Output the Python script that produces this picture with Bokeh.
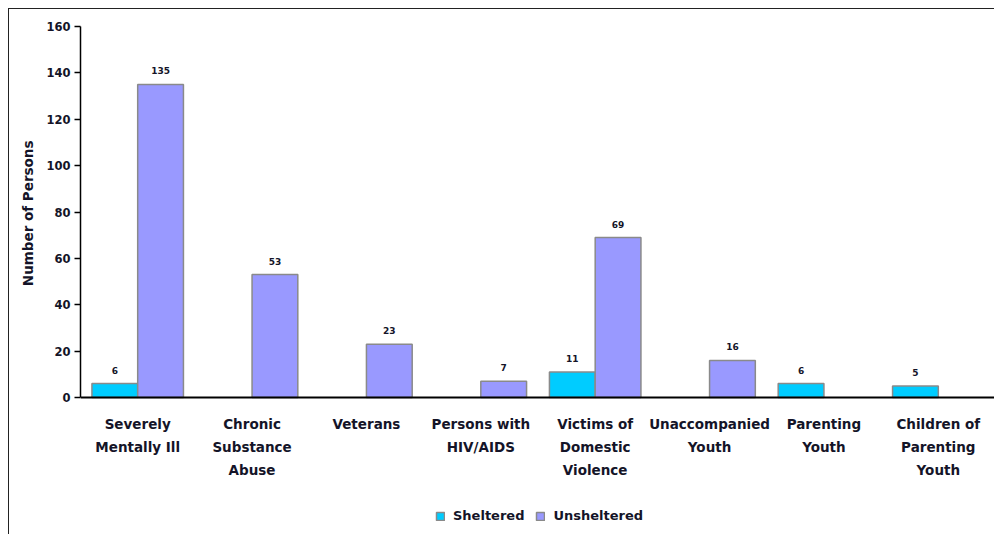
from bokeh.plotting import figure
from bokeh.models import (ColumnDataSource, FactorRange, Range1d, FixedTicker,
                          Legend, LegendItem, Span, Title)
from bokeh.transform import dodge
from bokeh.core.properties import value
from bokeh.embed import file_html
from bokeh.resources import INLINE

# ---- data ----
categories = ["Severely\nMentally Ill", "Chronic\nSubstance\nAbuse", "Veterans",
              "Persons with\nHIV/AIDS", "Victims of\nDomestic\nViolence",
              "Unaccompanied\nYouth", "Parenting\nYouth", "Children of\nParenting\nYouth"]
sheltered = [6, 0, 0, 0, 11, 0, 6, 5]
unsheltered = [135, 53, 23, 7, 69, 16, 0, 0]
series_names = ["Sheltered", "Unsheltered"]
y_ticks = [0, 20, 40, 60, 80, 100, 120, 140, 160]
y_title = "Number of Persons"

colors = ["#00CCFF", "#9999FF"]
offsets = [-0.2, 0.2]
FONT = "DejaVu Sans"
TEXT_COLOR = "#141428"

# layout (pixels): plotting area of the value axis and room below it for texts
AXIS_PX = 371
BELOW_PX = 138
y_max = y_ticks[-1]
y_min = -y_max * BELOW_PX / AXIS_PX

p = figure(x_range=FactorRange(*categories, range_padding=0),
           y_range=Range1d(y_min, y_max),
           width=986, height=526,
           output_backend="svg", toolbar_location=None,
           min_border_left=71, min_border_top=17, min_border_right=0,
           min_border_bottom=0, outline_line_color=None)
p.styles = {"margin-left": "8px", "margin-top": "8px",
            "border-top": "1px solid #222222", "border-left": "1px solid #222222"}

p.xgrid.grid_line_color = None
p.ygrid.grid_line_color = None
p.xaxis.visible = False

renderers = []
for name, vals, col, off in zip(series_names, [sheltered, unsheltered], colors, offsets):
    xs = [c for c, v in zip(categories, vals) if v != 0]
    ys = [v for v in vals if v != 0]
    src = ColumnDataSource(dict(x=xs, y=ys, lab=[str(v) for v in ys]))
    r = p.vbar(x=dodge("x", off, range=p.x_range), top="y", width=0.4, source=src,
               fill_color=col, line_color="#8a8a8a", line_width=1.5)
    renderers.append(r)
    p.text(x=dodge("x", off, range=p.x_range), y="y", text="lab", source=src,
           text_align="center", text_baseline="bottom", y_offset=-10,
           text_font=value(FONT), text_font_size="9px", text_font_style="bold",
           text_color=TEXT_COLOR)

# baseline (category axis line)
p.add_layout(Span(location=0, dimension="width", line_color="#000000", line_width=2))

# y axis
ya = p.yaxis[0]
ya.ticker = FixedTicker(ticks=y_ticks)
ya.bounds = (y_ticks[0], y_ticks[-1])
ya.major_label_text_font = FONT
ya.major_label_text_font_size = "11.5px"
ya.major_label_text_font_style = "bold"
ya.major_label_text_color = TEXT_COLOR
ya.major_label_standoff = 4
ya.major_tick_in = 0
ya.major_tick_out = 6
ya.minor_tick_line_color = None
ya.axis_line_color = "#000000"
ya.axis_line_width = 1.5
ya.major_tick_line_width = 1.5

# y axis title, placed along the 0..160 span
p.add_layout(Title(text=y_title, align="right", offset=114,
                   text_font=FONT, text_font_size="13.5px", text_font_style="bold",
                   text_color=TEXT_COLOR, standoff=15), "left")

# category texts below the baseline
lab_x, lab_text, lab_off = [], [], []
for cat in categories:
    for j, line in enumerate(cat.split("\n")):
        lab_x.append(cat)
        lab_text.append(line)
        lab_off.append(26 + 23 * j)
lab_src = ColumnDataSource(dict(x=lab_x, y=[0] * len(lab_x), t=lab_text, off=lab_off))
p.text(x="x", y="y", text="t", y_offset="off", source=lab_src,
       text_align="center", text_baseline="middle",
       text_font=value(FONT), text_font_size="13.5px", text_font_style="bold",
       text_color=TEXT_COLOR)

legend = Legend(items=[LegendItem(label=n, renderers=[r]) for n, r in zip(series_names, renderers)],
                orientation="horizontal", location=(355, 12),
                border_line_color=None, background_fill_alpha=0,
                label_text_font=FONT, label_text_font_size="13px",
                label_text_font_style="bold",
                label_text_color=TEXT_COLOR, glyph_width=10, glyph_height=10,
                spacing=11, label_standoff=8, padding=0, margin=0)
p.add_layout(legend, "center")

open("out.html", "w").write(file_html(p, INLINE))
